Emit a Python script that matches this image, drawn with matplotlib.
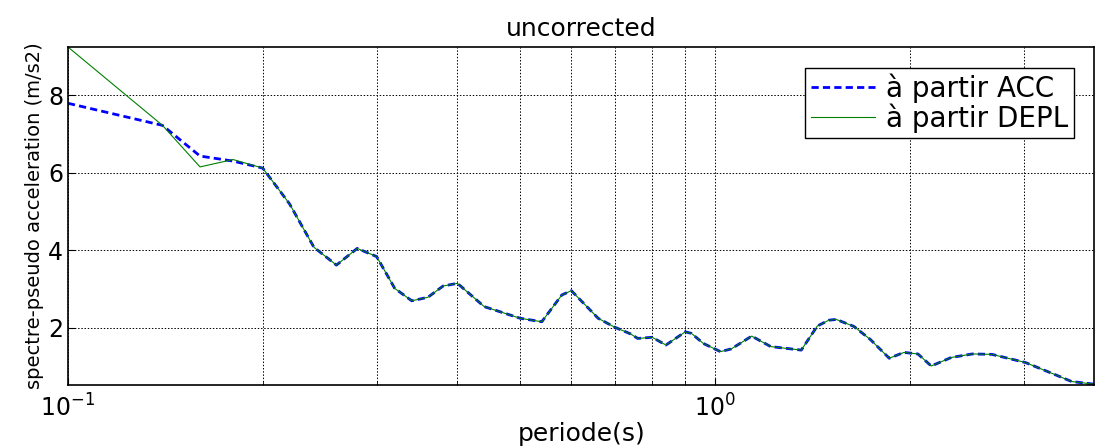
import matplotlib
matplotlib.use('Agg')
import matplotlib.pyplot as plt
from matplotlib.ticker import LogLocator, NullFormatter

plt.rcParams['font.family'] = ['DejaVu Sans']

# periods (s)
periode = [0.10, 0.14, 0.16, 0.18, 0.20, 0.22, 0.24, 0.26, 0.28, 0.30,
           0.32, 0.34, 0.36, 0.38, 0.40, 0.44, 0.50, 0.54, 0.58, 0.60,
           0.64, 0.66, 0.70, 0.74, 0.76, 0.80, 0.84, 0.90, 0.92, 0.96,
           1.02, 1.06, 1.14, 1.22, 1.28, 1.36, 1.44, 1.50, 1.54, 1.64,
           1.74, 1.86, 1.96, 2.06, 2.16, 2.32, 2.50, 2.68, 3.02, 3.32,
           3.56, 3.86]

# pseudo spectral acceleration computed from ACC
sa_acc = [7.79, 7.22, 6.43, 6.30, 6.12, 5.20, 4.08, 3.62, 4.05, 3.84,
          3.02, 2.70, 2.79, 3.08, 3.15, 2.55, 2.25, 2.16, 2.85, 2.96,
          2.48, 2.25, 2.02, 1.85, 1.73, 1.76, 1.56, 1.90, 1.86, 1.60,
          1.39, 1.46, 1.79, 1.52, 1.48, 1.43, 2.05, 2.20, 2.22, 2.04,
          1.70, 1.22, 1.37, 1.33, 1.02, 1.24, 1.33, 1.32, 1.11, 0.83,
          0.62, 0.55]

# same thing computed from DEPL (differs only at short periods)
sa_depl = [9.24, 7.22, 6.15, 6.34, 6.12, 5.20, 4.08, 3.62, 4.05, 3.84,
           3.02, 2.70, 2.79, 3.08, 3.15, 2.55, 2.25, 2.16, 2.85, 2.96,
           2.48, 2.25, 2.02, 1.85, 1.73, 1.76, 1.56, 1.90, 1.86, 1.60,
           1.39, 1.46, 1.79, 1.52, 1.48, 1.43, 2.05, 2.20, 2.22, 2.04,
           1.70, 1.22, 1.37, 1.33, 1.02, 1.24, 1.33, 1.32, 1.11, 0.83,
           0.62, 0.55]

fig = plt.figure(figsize=(10.96, 4.48), dpi=100)
ax = fig.add_axes([0.062, 0.1406, 0.9365, 0.7545])

ax.plot(periode, sa_acc, color='blue', linestyle='--', linewidth=2.0,
        dashes=(2.6, 1.5), label='à partir ACC')
ax.plot(periode, sa_depl, color='green', linewidth=0.8, label='à partir DEPL')

ax.set_xscale('log')
ax.set_xlim(0.1, 3.86)
ax.set_ylim(0.53, 9.24)
ax.set_yticks([2, 4, 6, 8])
ax.xaxis.set_major_locator(LogLocator(base=10))
ax.xaxis.set_minor_locator(LogLocator(base=10, subs=range(2, 10)))
ax.xaxis.set_minor_formatter(NullFormatter())

ax.grid(True, which='both', axis='x', color='black', linestyle=(0, (1.5, 1.8)), linewidth=0.7)
ax.grid(True, which='major', axis='y', color='black', linestyle=(0, (1.5, 1.8)), linewidth=0.7)

ax.tick_params(which='both', direction='in', top=False, right=False, labelsize=17)
ax.tick_params(which='major', length=5)
ax.tick_params(which='minor', length=3)
ax.tick_params(axis='x', pad=7)

for s in ax.spines.values():
    s.set_linewidth(1.2)

ax.set_title('uncorrected', fontsize=18, pad=8)
ax.set_xlabel('periode(s)', fontsize=18, labelpad=0)
ax.set_ylabel('spectre-pseudo acceleration (m/s2)', fontsize=14, labelpad=3)

leg = ax.legend(loc='upper right', bbox_to_anchor=(0.98, 0.938), borderaxespad=0,
                fontsize=20, fancybox=False, framealpha=1, edgecolor='black',
                handlelength=2.3, handletextpad=0.4, labelspacing=0.0,
                borderpad=0.2)
leg.get_frame().set_linewidth(1.0)

fig.savefig('out.png', dpi=100)
